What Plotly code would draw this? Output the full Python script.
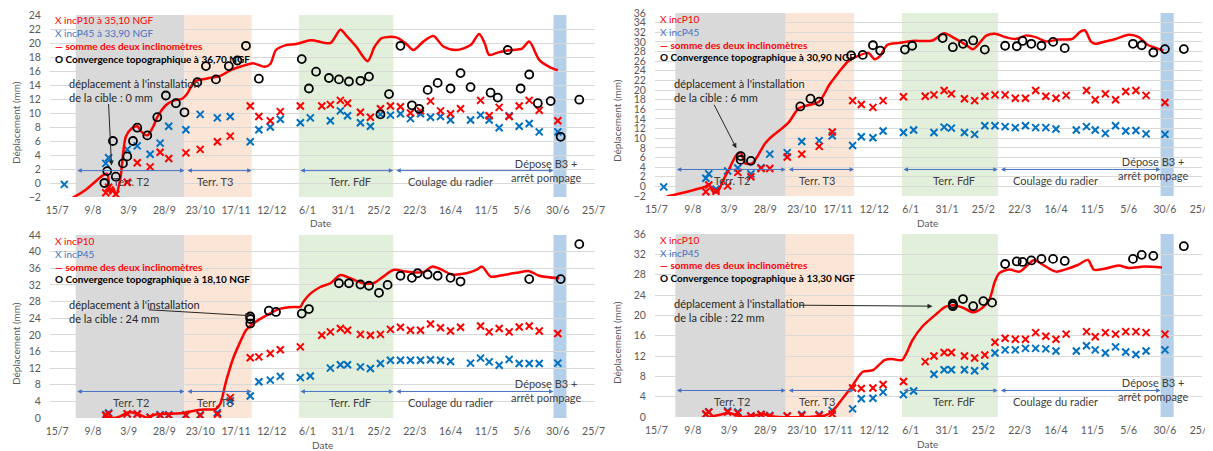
import pandas as pd
import plotly.graph_objects as go

N = None

# inclinometer reading dates (shared by the four panels)
incl_dates = ["20/7/20", "18/8/20", "20/8/20", "25/8/20", "2/9/20", "9/9/20", "18/9/20", "25/9/20",
              "1/10/20", "13/10/20", "23/10/20", "4/11/20", "13/11/20", "27/11/20", "3/12/20",
              "11/12/20", "18/12/20", "1/1/21", "8/1/21", "16/1/21", "22/1/21", "29/1/21", "3/2/21",
              "12/2/21", "19/2/21", "26/2/21", "5/3/21", "12/3/21", "19/3/21", "26/3/21", "2/4/21",
              "9/4/21", "16/4/21", "23/4/21", "30/4/21", "7/5/21", "13/5/21", "20/5/21", "27/5/21",
              "3/6/21", "10/6/21", "17/6/21", "30/6/21"]

tl_p10 = [N, -1.4, -0.6, -1.6, 0.1, 2.9, 2.3, 4.4, 3.5, 4.3, 4.8, 5.9, 6.7, 11.0, 9.5, 8.9, 10.2, 11.0, N,
          11.0, 11.2, 11.8, 11.4, 10.1, 9.4, 10.6, 11.0, 10.9, 10.0, 10.3, 11.7, 10.3, 9.9, 10.6, N,
          11.8, 9.6, 10.8, 9.5, 11.0, 11.8, 10.4, 8.9]
tl_p45 = [-0.2, 2.8, 3.6, N, 4.8, 5.3, 4.1, 5.7, 8.1, 7.6, 9.8, 9.3, 9.5, 5.9, 7.6, 8.0, 9.1, 8.6, 9.3, N,
          8.9, 10.3, 9.6, 8.6, 8.1, 9.8, 9.7, 9.9, 9.2, 9.9, 9.4, 9.5, 9.0, N,
          9.0, 9.7, 9.0, 7.9, 9.6, 8.1, 8.5, 7.3, 7.3]
tr_p10 = [N, -1.1, 0.3, -1.0, 0.1, 2.9, 2.0, 3.7, 3.7, 6.1, 6.7, 8.3, 11.3, 17.8, 17.0, 16.4, 17.8, 18.6, N,
          18.7, 19.0, 19.9, 19.2, 18.2, 17.8, 18.7, 19.0, 19.0, 18.3, 18.3, 19.9, 18.7, 18.3, 18.9, N,
          19.9, 18.0, 19.2, 18.0, 19.7, 19.9, 18.9, 17.4]
tr_p45 = [-0.1, 1.7, 2.6, -0.6, 3.2, 3.8, 2.6, 3.9, 6.7, 7.0, 9.3, 9.5, 10.5, 8.5, 10.3, 10.1, 11.5, 11.2, 11.7, N,
          11.2, 12.3, 12.1, 11.2, 10.8, 12.6, 12.6, 12.4, 12.2, 12.6, 12.2, 12.2, 11.9, N,
          11.7, 12.4, 11.7, 11.0, 12.6, 11.5, 11.6, 10.9, 10.8]
bl_p10 = [N, 0.6, 1.0, N, 1.0, 0.9, 0.2, 0.6, 0.6, 0.6, 0.6, 0.9, 4.9, 14.5, 14.7, 15.5, 16.4, 17.1, N,
          19.9, 20.7, 21.5, 21.1, 20.1, 19.9, 20.1, 21.3, 21.8, 21.1, 21.1, 22.6, 21.7, 20.9, 21.8, N,
          22.1, 20.7, 21.5, 20.7, 21.9, 22.1, 20.9, 20.3]
bl_p45 = [N, 0.8, 1.2, N, 1.0, 1.0, 0.2, 0.8, 0.8, 0.8, 0.8, 1.3, 4.1, 5.3, 8.7, 9.1, 10.0, 9.7, 10.1, N,
          12.0, 12.8, 12.8, 12.3, 11.9, 13.1, 13.9, 13.9, 13.9, 13.9, 14.0, 13.9, 13.6, N,
          13.2, 14.4, 13.5, 12.7, 14.1, 13.1, 13.1, 13.1, 13.2]
br_p10 = [N, 0.6, 1.0, N, 1.0, 0.8, 0.2, 0.5, 0.2, 0.2, 0.3, 0.3, 0.6, 5.7, 5.6, 5.7, 6.4, 7.0, N,
          10.9, 12.0, 12.7, 12.7, 12.0, 11.6, 12.2, 14.7, 15.5, 15.3, 15.3, 16.6, 15.9, 15.3, 16.3, N,
          16.8, 15.8, 16.6, 16.3, 16.8, 16.8, 16.6, 16.3]
br_p45 = [N, 0.5, 1.0, N, 1.2, 1.0, 0.2, 0.5, 0.3, 0.2, 0.5, 0.5, 1.3, 1.6, 3.6, 3.7, 4.9, 4.4, 5.1, N,
          8.4, 9.3, 9.3, 9.3, 9.1, 10.0, 12.6, 13.2, 13.2, 13.5, 13.5, 13.4, 13.0, N,
          13.0, 14.0, 13.2, 12.6, 13.8, 12.8, 12.3, 13.0, 13.2]

# topographic convergence
tl_topo_dates = ["17/8/20", "19/8/20", "23/8/20", "25/8/20", "30/8/20", "2/9/20", "6/9/20", "9/9/20",
                 "16/9/20", "23/9/20", "29/9/20", "6/10/20", "12/10/20", "21/10/20", "27/10/20",
                 "3/11/20", "12/11/20", "18/11/20", "24/11/20", "3/12/20", "2/1/21", "7/1/21",
                 "12/1/21", "21/1/21", "28/1/21", "4/2/21", "12/2/21", "18/2/21", "26/2/21", "4/3/21",
                 "12/3/21", "20/3/21", "25/3/21", "31/3/21", "7/4/21", "16/4/21", "23/4/21", "30/4/21",
                 "14/5/21", "19/5/21", "26/5/21", "4/6/21", "10/6/21", "16/6/21", "25/6/21", "2/7/21",
                 "15/7/21"]
tl_topo = [0.0, 1.7, 6.0, 0.9, 2.8, 3.8, 6.0, 7.9, 6.8, 9.4, 12.5, 11.4, 10.1, 14.4, 16.7, 14.8, 16.7,
           17.5, 19.6, 14.9, 17.7, 13.5, 15.9, 15.0, 14.8, 14.5, 14.6, 15.2, 9.8, 12.7, 19.6, 11.1,
           10.6, 13.3, 14.3, 13.5, 15.7, 13.7, 12.9, 12.2, 19.0, 13.5, 15.5, 11.4, 11.7, 6.6, 11.9]
tr_topo_dates = ["11/9/20", "11/9/20", "18/9/20", "22/10/20", "29/10/20", "4/11/20", "26/11/20",
                 "4/12/20", "11/12/20", "16/12/20", "2/1/21", "7/1/21", "28/1/21", "4/2/21", "11/2/21",
                 "18/2/21", "26/2/21", "12/3/21", "20/3/21", "24/3/21", "30/3/21", "6/4/21", "14/4/21",
                 "22/4/21", "8/6/21", "14/6/21", "22/6/21", "30/6/21", "13/7/21"]
tr_topo = [6.3, 5.5, 5.3, 16.6, 18.2, 17.6, 27.2, 27.3, 29.3, 28.2, 28.4, 29.2, 30.8, 28.9, 29.6, 30.3,
           28.4, 29.2, 29.1, 30.2, 29.6, 29.2, 30.0, 28.7, 29.6, 29.3, 27.8, 28.5, 28.5]
bl_topo_dates = ["27/11/20", "27/11/20", "27/11/20", "10/12/20", "15/12/20", "2/1/21", "7/1/21",
                 "28/1/21", "4/2/21", "12/2/21", "18/2/21", "25/2/21", "3/3/21", "12/3/21", "20/3/21",
                 "24/3/21", "31/3/21", "7/4/21", "16/4/21", "23/4/21", "10/6/21", "2/7/21", "15/7/21"]
bl_topo = [22.7, 23.8, 24.4, 25.8, 25.5, 25.1, 26.2, 32.4, 32.4, 32.1, 31.8, 30.1, 32.0, 34.2, 33.7,
           34.8, 34.5, 34.2, 33.7, 32.8, 33.4, 33.4, 41.8]
br_topo_dates = ["4/2/21", "4/2/21", "4/2/21", "11/2/21", "18/2/21", "25/2/21", "3/3/21", "12/3/21",
                 "20/3/21", "24/3/21", "30/3/21", "6/4/21", "14/4/21", "22/4/21", "8/6/21", "14/6/21",
                 "22/6/21", "13/7/21"]
br_topo = [21.8, 22.0, 22.3, 23.2, 21.8, 22.8, 22.5, 30.1, 30.6, 30.5, 30.8, 31.1, 31.1, 30.7, 31.1,
           31.9, 31.7, 33.6]

# sum of the two inclinometers
tl_sum_dates = ["20/7/20", "4/8/20", "16/8/20", "19/8/20", "21/8/20", "23/8/20", "25/8/20", "28/8/20",
                "1/9/20", "5/9/20", "9/9/20", "12/9/20", "16/9/20", "20/9/20", "23/9/20", "29/9/20",
                "5/10/20", "10/10/20", "14/10/20", "19/10/20", "27/10/20", "6/11/20", "13/11/20",
                "20/11/20", "29/11/20", "7/12/20", "11/12/20", "15/12/20", "22/12/20", "29/12/20",
                "8/1/21", "12/1/21", "22/1/21", "29/1/21", "2/2/21", "9/2/21", "17/2/21", "22/2/21",
                "27/2/21", "9/3/21", "16/3/21", "21/3/21", "28/3/21", "4/4/21", "11/4/21", "20/4/21",
                "30/4/21", "6/5/21", "10/5/21", "13/5/21", "20/5/21", "29/5/21", "5/6/21", "10/6/21",
                "17/6/21", "24/6/21", "30/6/21"]
tl_sum = [-2.8, -0.95, 1.1, 1.3, -1.5, -0.6, -1.7, 0.4, 6.6, 7.8, 8.1, 7.3, 6.8, 8.0, 9.4, 11.1, 11.8,
          12.0, 12.8, 14.5, 14.9, 15.3, 16.1, 16.6, 17.1, 16.6, 17.0, 19.0, 19.7, 19.85, 20.4, 20.3,
          20.0, 21.9, 21.1, 19.5, 17.4, 19.5, 20.7, 20.8, 19.9, 19.0, 20.2, 21.0, 19.5, 19.0, 19.7,
          21.3, 19.9, 18.3, 18.7, 19.0, 19.2, 20.2, 17.6, 16.6, 16.1]
tr_sum_dates = ["22/7/20", "31/7/20", "9/8/20", "18/8/20", "20/8/20", "23/8/20", "26/8/20", "30/8/20",
                "4/9/20", "8/9/20", "11/9/20", "14/9/20", "19/9/20", "23/9/20", "28/9/20", "3/10/20",
                "8/10/20", "14/10/20", "21/10/20", "28/10/20", "4/11/20", "11/11/20", "17/11/20",
                "24/11/20", "1/12/20", "8/12/20", "12/12/20", "16/12/20", "21/12/20", "29/12/20",
                "7/1/21", "21/1/21", "29/1/21", "5/2/21", "13/2/21", "18/2/21", "27/2/21", "5/3/21",
                "12/3/21", "19/3/21", "26/3/21", "2/4/21", "9/4/21", "18/4/21", "27/4/21", "3/5/21",
                "6/5/21", "10/5/21", "13/5/21", "20/5/21", "27/5/21", "5/6/21", "12/6/21", "18/6/21",
                "24/6/21", "29/6/21"]
tr_sum = [-2.1, -1.5, -0.8, 0.0, 0.4, -1.1, -1.1, 1.3, 4.2, 6.5, 7.0, 4.8, 4.8, 6.5, 9.0, 10.5, 11.7,
          13.3, 16.2, 16.9, 17.6, 21.1, 23.5, 26.0, 27.1, 27.7, 26.4, 27.1, 29.4, 29.8, 30.2, 30.3,
          31.8, 30.8, 29.4, 28.5, 31.3, 31.7, 31.0, 30.6, 31.3, 31.0, 30.1, 30.5, 30.6, 32.2, 32.4,
          30.1, 29.6, 30.1, 30.6, 31.5, 31.0, 29.4, 28.7, 28.2]
bl_sum_dates = ["16/8/20", "23/8/20", "28/8/20", "3/9/20", "9/9/20", "16/9/20", "21/9/20", "30/9/20",
                "11/10/20", "23/10/20", "3/11/20", "6/11/20", "10/11/20", "15/11/20", "20/11/20",
                "24/11/20", "29/11/20", "8/12/20", "18/12/20", "27/12/20", "1/1/21", "3/1/21", "8/1/21",
                "15/1/21", "22/1/21", "29/1/21", "5/2/21", "14/2/21", "21/2/21", "28/2/21", "7/3/21",
                "16/3/21", "23/3/21", "29/3/21", "3/4/21", "9/4/21", "17/4/21", "27/4/21", "4/5/21",
                "8/5/21", "14/5/21", "20/5/21", "1/6/21", "10/6/21", "17/6/21", "1/7/21"]
bl_sum = [0.6, 0.0, 0.4, 1.4, 1.0, 0.1, 0.8, 1.0, 1.2, 2.0, 2.2, 3.4, 8.7, 14.3, 18.3, 21.1, 22.7, 24.6,
          26.3, 26.7, 26.7, 27.9, 29.9, 31.5, 32.4, 34.4, 33.6, 32.4, 32.4, 34.0, 35.6, 35.2, 35.0,
          35.2, 36.4, 35.8, 34.5, 34.8, 35.6, 36.4, 34.0, 34.2, 34.9, 35.3, 34.2, 33.6]
br_sum_dates = ["20/8/20", "27/8/20", "3/9/20", "12/9/20", "19/9/20", "26/9/20", "1/10/20", "7/10/20",
                "26/10/20", "8/11/20", "13/11/20", "20/11/20", "27/11/20", "4/12/20", "11/12/20",
                "19/12/20", "24/12/20", "31/12/20", "3/1/21", "7/1/21", "14/1/21", "23/1/21", "30/1/21",
                "5/2/21", "11/2/21", "18/2/21", "24/2/21", "1/3/21", "5/3/21", "8/3/21", "15/3/21",
                "22/3/21", "1/4/21", "6/4/21", "16/4/21", "22/4/21", "1/5/21", "8/5/21", "12/5/21",
                "20/5/21", "29/5/21", "5/6/21", "16/6/21", "28/6/21"]
br_sum = [0.0, 0.4, 0.8, 0.0, 0.2, 0.6, 0.2, 0.0, 0.0, 0.3, 1.1, 3.6, 6.2, 8.9, 9.2, 11.2, 11.4, 11.2,
          12.5, 15.0, 17.8, 20.1, 21.7, 22.0, 21.5, 20.6, 21.4, 23.0, 26.7, 28.3, 29.0, 28.6, 30.9,
          30.1, 28.6, 29.0, 29.9, 30.9, 29.0, 29.2, 29.8, 29.3, 29.6, 29.4]

# work phases
band_dates = [("28/7/20", "12/10/20"), ("12/10/20", "28/11/20"), ("31/12/20", "7/3/21"), ("27/6/21", "6/7/21")]
band_colors = ["#d9d9d9", "#fbe5d6", "#e2efda", "#b4cfe9"]
phase_arrows = [("28/7/20", "12/10/20"), ("13/10/20", "28/11/20"), ("31/12/20", "7/3/21"), ("8/3/21", "27/6/21")]
phase_labels = ["Terr. T2", "Terr. T3", "Terr. FdF", "Coulage du radier"]
phase_label_dates = ["5/9/20", "3/11/20", "5/2/21", "16/4/21"]
depose_date = "22/6/21"

ngf_levels = ["36,70", "30,90", "18,10", "13,30"]
target_disp = ["0", "6", "24", "22"]


def to_dates(lst):
    out = []
    for s in lst:
        d, m, y = s.split("/")
        out.append(pd.Timestamp(2000 + int(y), int(m), int(d)))
    return out


# the page keeps the browser's 8px body margin, so the figure is 8px smaller
OFF = 8
W, H = 1213 - OFF, 451 - OFF
FONT = "Lato, Roboto, sans-serif"
RED = "#ff0000"
BLUE = "#0070c0"
LBLUE = "#4472c4"
GREY = "#595959"
DARK = "#404040"


def P(x, y):
    # page pixel -> paper fraction
    return (x - OFF) / W, 1 - (y - OFF) / H


panels = [
    dict(box=(50, 595, 15, 197), xr=("2020-07-10", "2021-07-26"), yr=(-2, 24), dt=2,
         p10=tl_p10, p45=tl_p45, td=tl_topo_dates, tv=tl_topo, sd=tl_sum_dates, sv=tl_sum,
         leg_x=53, leg_y=[20, 33, 46, 59], p10_lab="X incP10 à 35,10 NGF", p45_lab="X incP45 à 33,90 NGF",
         txt=(67, 90), head=("22/8/20", 2.5), tail=(-3, -63), ytit=(16, 123), dlab=(320, 223)),
    dict(box=(655, 1202, 13, 196), xr=("2020-07-14", "2021-07-25 12:00"), yr=(-2, 36), dt=2,
         p10=tr_p10, p45=tr_p45, td=tr_topo_dates, tv=tr_topo, sd=tr_sum_dates, sv=tr_sum,
         leg_x=658, leg_y=[19, 32, 45, 57], p10_lab="X incP10", p45_lab="X incP45",
         txt=(672, 90), head=("8/9/20", 7.9), tail=(-23, -45), ytit=(617, 121), dlab=(927, 223)),
    dict(box=(50, 595, 235, 418), xr=("2020-07-10", "2021-07-26"), yr=(0, 44), dt=4,
         p10=bl_p10, p45=bl_p45, td=bl_topo_dates, tv=bl_topo, sd=bl_sum_dates, sv=bl_sum,
         leg_x=53, leg_y=[241, 254, 267, 279], p10_lab="X incP10", p45_lab="X incP45",
         txt=(67, 311), head=("27/11/20", 24.6), tail=(-103, -6), ytit=(16, 344), dlab=(322, 445)),
    dict(box=(655, 1202, 234, 417), xr=("2020-07-14", "2021-07-25 12:00"), yr=(0, 36), dt=4,
         p10=br_p10, p45=br_p45, td=br_topo_dates, tv=br_topo, sd=br_sum_dates, sv=br_sum,
         leg_x=658, leg_y=[240, 253, 265, 278], p10_lab="X incP10", p45_lab="X incP45",
         txt=(672, 310), head=("21/1/21", 21.8), tail=(-135, -1), ytit=(617, 343), dlab=(928, 444)),
]

incl = to_dates(incl_dates)
fig = go.Figure()
annotations = []
shapes = []

for i, p in enumerate(panels):
    n = "" if i == 0 else str(i + 1)
    xa, ya = "x" + n, "y" + n
    x0, x1, top, bottom = p["box"]
    dx0, dy1 = P(x0, top)
    dx1, dy0 = P(x1, bottom)

    fig.add_trace(go.Scatter(x=incl, y=p["p45"], mode="markers", xaxis=xa, yaxis=ya, showlegend=False,
                             marker=dict(symbol="x-thin", size=7, line=dict(width=2, color=BLUE))))
    fig.add_trace(go.Scatter(x=incl, y=p["p10"], mode="markers", xaxis=xa, yaxis=ya, showlegend=False,
                             marker=dict(symbol="x-thin", size=7, line=dict(width=2, color=RED))))
    fig.add_trace(go.Scatter(x=to_dates(p["sd"]), y=p["sv"], mode="lines", xaxis=xa, yaxis=ya,
                             showlegend=False, line=dict(color=RED, width=2.5, shape="spline", smoothing=0.8)))
    fig.add_trace(go.Scatter(x=to_dates(p["td"]), y=p["tv"], mode="markers", xaxis=xa, yaxis=ya,
                             showlegend=False, cliponaxis=False,
                             marker=dict(symbol="circle-open", size=8, color="black", line=dict(width=1.8))))

    fig.update_layout(**{
        "xaxis" + n: dict(domain=[dx0, dx1], anchor=ya, type="date", range=list(p["xr"]), automargin=False,
                          tick0="2020-07-15", dtick=25 * 86400000, tickformat="%-d/%-m",
                          ticklabeloverflow="allow",
                          showgrid=False, zeroline=False, showline=False, ticks="outside", ticklen=3,
                          tickcolor="rgba(0,0,0,0)", tickfont=dict(family=FONT, size=10.5, color=GREY)),
        "yaxis" + n: dict(domain=[dy0, dy1], anchor=xa, range=list(p["yr"]), automargin=False,
                          dtick=p["dt"], tick0=0, showgrid=True, gridcolor="#d9d9d9", gridwidth=1,
                          ticklabeloverflow="allow",
                          zeroline=False, showline=False, ticks="outside", ticklen=6,
                          tickcolor="rgba(0,0,0,0)", tickfont=dict(family=FONT, size=10.5, color=GREY)),
    })

    for (a, b), col in zip(band_dates, band_colors):
        a, b = to_dates([a, b])
        shapes.append(dict(type="rect", xref=xa, yref=ya + " domain", x0=a, x1=b, y0=0, y1=1,
                           fillcolor=col, line=dict(width=0), layer="below"))

    for (a, b) in phase_arrows:
        a, b = to_dates([a, b])
        annotations.append(dict(xref=xa, yref=ya + " domain", x=b, y=0.145, axref=xa, ayref=ya + " domain",
                                ax=a, ay=0.145, text="", showarrow=True, arrowside="end+start",
                                arrowhead=2, arrowsize=0.9, arrowwidth=1, arrowcolor=LBLUE))
    for lab, d in zip(phase_labels, to_dates(phase_label_dates)):
        annotations.append(dict(xref=xa, yref=ya + " domain", x=d, y=0.083, text=lab, showarrow=False,
                                xanchor="center", yanchor="middle",
                                font=dict(family=FONT, size=11, color=DARK)))
    annotations.append(dict(xref=xa, yref=ya + " domain", x=to_dates([depose_date])[0], y=0.148,
                            text="Dépose B3 +<br>arrêt pompage", showarrow=False,
                            xanchor="center", yanchor="middle",
                            font=dict(family=FONT, size=11, color=DARK)))

    # text legend
    leg = [(p["p10_lab"], RED), (p["p45_lab"], LBLUE),
           ("<b>— somme des deux inclinomètres</b>", RED),
           ("<b>O Convergence topographique à %s NGF</b>" % ngf_levels[i], "black")]
    for (t, c), yy in zip(leg, p["leg_y"]):
        px, py = P(p["leg_x"], yy)
        annotations.append(dict(xref="paper", yref="paper", x=px, y=py, xanchor="left", yanchor="middle",
                                text=t, showarrow=False, font=dict(family=FONT, size=10, color=c)))

    tx, ty = P(*p["txt"])
    annotations.append(dict(xref="paper", yref="paper", x=tx, y=ty, xanchor="left", yanchor="middle",
                            align="left", showarrow=False,
                            text="déplacement à l'installation<br>de la cible : %s mm" % target_disp[i],
                            font=dict(family=FONT, size=11, color="#262626")))
    hd, hv = p["head"]
    annotations.append(dict(xref=xa, yref=ya, x=to_dates([hd])[0], y=hv, ax=p["tail"][0], ay=p["tail"][1],
                            text="", showarrow=True, arrowhead=2, arrowsize=1, arrowwidth=1,
                            arrowcolor="#262626"))

    yx, yy = P(*p["ytit"])
    annotations.append(dict(xref="paper", yref="paper", x=yx, y=yy, text="Déplacement (mm)", textangle=-90,
                            xanchor="center", yanchor="middle", showarrow=False,
                            font=dict(family=FONT, size=10, color=GREY)))
    lx, ly = P(*p["dlab"])
    annotations.append(dict(xref="paper", yref="paper", x=lx, y=ly, text="Date", showarrow=False,
                            xanchor="center", yanchor="middle",
                            font=dict(family=FONT, size=10, color=GREY)))

fig.update_layout(
    width=W, height=H,
    margin=dict(l=0, r=0, t=0, b=0),
    paper_bgcolor="white", plot_bgcolor="white",
    shapes=shapes, annotations=annotations,
    font=dict(family=FONT),
)

fig.write_html("out.html")
